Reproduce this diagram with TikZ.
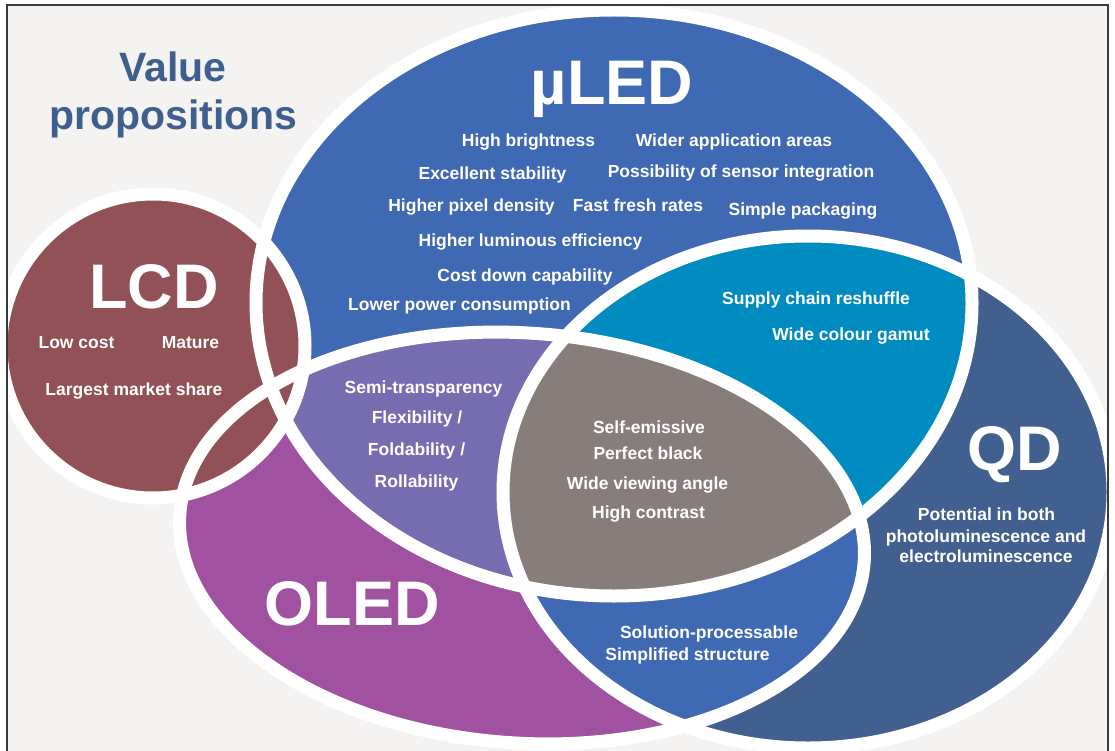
\documentclass[tikz,border=0pt]{standalone}
\usepackage{fontspec}
\setmainfont{Liberation Sans}
\definecolor{bgc}{HTML}{F4F3F1}
\definecolor{lcdc}{HTML}{925156}
\definecolor{muc}{HTML}{3F69B2}
\definecolor{olc}{HTML}{A0519F}
\definecolor{vioc}{HTML}{766CB0}
\definecolor{greyc}{HTML}{877E7C}
\definecolor{cyanc}{HTML}{008BC1}
\definecolor{qdc}{HTML}{42608F}
\definecolor{titlec}{HTML}{3F5F8F}
\definecolor{framec}{HTML}{3A3A3A}
\tikzset{
  lcdshape/.style={insert path={(153,346) circle [radius=152pt]}},
  mushape/.style={insert path={(614,303) ellipse [x radius=358pt, y radius=293pt]}},
  olshape/.style={insert path={[rotate around={-4:(522,538)}] (522,538) ellipse [x radius=343pt, y radius=205pt]}},
  qdshape/.style={insert path={(808,492) ellipse [x radius=305pt, y radius=256pt]}},
  outline/.style={draw=white, line width=13pt},
  lbl/.style={text=white, font=\fontsize{17.5}{21}\selectfont\bfseries, anchor=base, inner sep=0pt},
  biglbl/.style={text=white, font=\fontsize{63}{70}\selectfont\bfseries, anchor=base, inner sep=0pt},
  titlelbl/.style={text=titlec, font=\fontsize{41}{48}\selectfont\bfseries, anchor=base, inner sep=0pt}
}
\begin{document}
\begin{tikzpicture}[x=1pt, y=-1pt]
\useasboundingbox (0,0) rectangle (1115,751);
\fill[white] (0,0) rectangle (1115,751);
\begin{scope}
  \clip (7,5) rectangle (1108,760);
  \fill[bgc] (7,5) rectangle (1108,760);
  % base fills
  \fill[muc, mushape];
  \fill[olc, olshape];
  \fill[qdc, qdshape];
  % OLED and QD
  \begin{scope}
    \clip[olshape];
    \fill[muc, qdshape];
  \end{scope}
  % uLED intersections
  \begin{scope}
    \clip[mushape];
    \fill[vioc, olshape];
    \fill[cyanc, qdshape];
    \clip[olshape];
    \fill[greyc, qdshape];
  \end{scope}
  % LCD on top
  \fill[lcdc, lcdshape];
  % white outlines
  \path[outline, mushape];
  \path[outline, olshape];
  \path[outline, qdshape];
  \path[outline, lcdshape];
\end{scope}
\draw[framec, line width=1.5pt] (7,760) -- (7,5) -- (1108,5) -- (1108,760);

% title
\node[titlelbl] (t1) at (173,82) {Value};
\node[titlelbl] (t2) at (173.5,130) {propositions};

% big labels
\node[biglbl] (mu) at (612,105) {µLED};
\node[biglbl] (lcd) at (154,308) {LCD};
\node[biglbl] (oled) at (352,625) {OLED};
\node[biglbl] (qd) at (1015,470) {QD};

% uLED
\node[lbl] (m1) at (528.5,147) {High brightness};
\node[lbl] (m2) at (734,147) {Wider application areas};
\node[lbl] (m3) at (492.5,180) {Excellent stability};
\node[lbl] (m4) at (741,178) {Possibility of sensor integration};
\node[lbl] (m5) at (471.5,212) {Higher pixel density};
\node[lbl] (m6) at (638,212) {Fast fresh rates};
\node[lbl] (m7) at (803,215) {Simple packaging};
\node[lbl] (m8) at (530.5,247) {Higher luminous efficiency};
\node[lbl] (m9) at (525,281) {Cost down capability};
\node[lbl] (m10) at (459.5,310) {Lower power consumption};

% uLED & QD
\node[lbl] (c1) at (816,304) {Supply chain reshuffle};
\node[lbl] (c2) at (851,340) {Wide colour gamut};

% LCD
\node[lbl] (l1) at (76.5,348) {Low cost};
\node[lbl] (l2) at (190.5,348) {Mature};
\node[lbl] (l3) at (134,395) {Largest market share};

% uLED & OLED
\node[lbl] (v1) at (423.5,393) {Semi-transparency};
\node[lbl] (v2) at (417,423) {Flexibility /};
\node[lbl] (v3) at (416.5,455) {Foldability /};
\node[lbl] (v4) at (416.5,487) {Rollability};

% all three
\node[lbl] (g1) at (649,433) {Self-emissive};
\node[lbl] (g2) at (648,459) {Perfect black};
\node[lbl] (g3) at (647.5,489) {Wide viewing angle};
\node[lbl] (g4) at (648.5,518) {High contrast};

% QD
\node[lbl] (q1) at (986.5,520) {Potential in both};
\node[lbl] (q2) at (986,542) {photoluminescence and};
\node[lbl] (q3) at (986,562) {electroluminescence};

% OLED & QD
\node[lbl] (s1) at (709,638) {Solution-processable};
\node[lbl] (s2) at (687.5,660) {Simplified structure};
\end{tikzpicture}
\end{document}
